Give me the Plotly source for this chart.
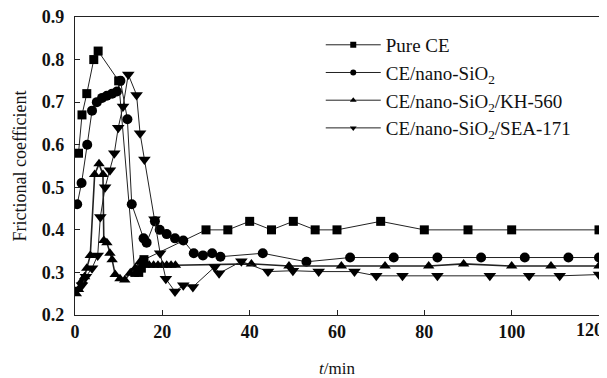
import plotly.graph_objects as go

# ---------------- data ----------------
pure_t = [0.8, 1.6, 2.7, 4.3, 5.3, 10.0, 13.7, 14.6, 15.2, 15.8, 30, 35, 40, 45, 50, 55, 60, 70, 80, 90, 100, 120]
pure_v = [0.58, 0.67, 0.72, 0.80, 0.82, 0.75, 0.30, 0.30, 0.31, 0.33, 0.40, 0.40, 0.42, 0.40, 0.42, 0.40, 0.40, 0.42, 0.40, 0.40, 0.40, 0.40]

sio2_t = [0.5, 1.5, 2.8, 3.9, 5.0, 6.2, 7.3, 8.5, 9.6, 10.4, 12.0, 13.0, 15.7, 16.4, 18.3, 19.4, 21.0, 22.9, 24.8,
          27.2, 29.3, 31.4, 33.3, 43, 53, 63, 73, 83, 93, 103, 113, 120]
sio2_v = [0.46, 0.51, 0.60, 0.68, 0.70, 0.71, 0.715, 0.72, 0.725, 0.75, 0.66, 0.46, 0.38, 0.37, 0.42, 0.40, 0.39, 0.38, 0.375,
          0.345, 0.34, 0.345, 0.337, 0.345, 0.325, 0.335, 0.335, 0.335, 0.335, 0.335, 0.335, 0.335]

kh_t = [0.3, 0.8, 1.6, 2.2, 2.7, 3.5, 4.5, 5.5, 6.4, 6.6, 7.3, 8.0, 8.5, 9.2, 10.3, 11.4, 12.6, 13.8, 14.9,
        16, 17, 18, 19, 20, 21, 22, 23, 40.4, 49, 61, 71, 81, 89, 100, 109, 120]
kh_v = [0.25, 0.26, 0.28, 0.29, 0.31, 0.34, 0.53, 0.555, 0.53, 0.375, 0.37, 0.345, 0.33, 0.295, 0.285, 0.282, 0.298, 0.31, 0.325,
        0.317, 0.317, 0.317, 0.317, 0.317, 0.317, 0.317, 0.317, 0.32, 0.315, 0.315, 0.315, 0.315, 0.32, 0.315, 0.315, 0.315]

sea_t = [0.5, 1.6, 2.5, 3.9, 5.2, 5.8, 6.9, 8.0, 9.0, 9.9, 11.0, 12.2, 14.1, 14.9, 15.9, 18.2, 19.5, 20.8, 22.9, 24.8, 27.0,
         32.0, 33.0, 38.1, 44.2, 49.9, 55.8, 64, 69, 75, 83, 95, 104, 111, 120]
sea_v = [0.26, 0.27, 0.29, 0.31, 0.34, 0.43, 0.50, 0.54, 0.58, 0.64, 0.69, 0.765, 0.717, 0.627, 0.565, 0.425, 0.345, 0.285, 0.255, 0.27, 0.266,
         0.313, 0.298, 0.326, 0.302, 0.304, 0.302, 0.302, 0.292, 0.292, 0.292, 0.292, 0.292, 0.292, 0.295]

names = ["Pure CE", "CE/nano-SiO<sub>2</sub>", "CE/nano-SiO<sub>2</sub>/KH-560", "CE/nano-SiO<sub>2</sub>/SEA-171"]
x_ticks = [0, 20, 40, 60, 80, 100, 120]
x_ticklabels = ["0", "20", "40", "60", "80", "100", "120"]

xs = [pure_t, sio2_t, kh_t, sea_t]
ys = [pure_v, sio2_v, kh_v, sea_v]
symbols = ["square", "circle", "triangle-up", "triangle-down"]
sizes = [9, 10, 10, 11]
widths = [1, 1, 1.6, 1]

fig = go.Figure()
for i in range(4):
    fig.add_trace(go.Scatter(
        x=xs[i], y=ys[i], mode="lines+markers", showlegend=False,
        line=dict(color="#222", width=widths[i]),
        marker=dict(symbol=symbols[i], size=sizes[i], color="black"),
    ))
# legend entries with small markers
for i in range(4):
    fig.add_trace(go.Scatter(
        x=[None], y=[None], mode="lines+markers", name=names[i], legendgroup=str(i),
        line=dict(color="#222", width=1),
        marker=dict(symbol=symbols[i], size=6, color="black"),
    ))

serif = "Liberation Serif"
tickfont = dict(family=serif, size=18, weight="bold", color="#111")
# page body has an 8px margin, so the figure is sized to fit what remains of the 607x378 window
fig.update_layout(
    width=599, height=370,
    margin=dict(l=67, r=8, t=9, b=63, autoexpand=False),
    paper_bgcolor="white", plot_bgcolor="white",
    font=dict(family=serif, color="#111"),
    legend=dict(x=0.469, y=0.97, xanchor="left", yanchor="top",
                bgcolor="rgba(0,0,0,0)", borderwidth=0,
                font=dict(family=serif, size=19, color="#111"),
                itemwidth=55, tracegroupgap=0),
    xaxis=dict(range=[0, 120], tickvals=x_ticks[:-1], ticktext=x_ticklabels[:-1],
               ticks="inside", ticklen=5, tickcolor="#222", automargin=False,
               showline=True, mirror=True, linecolor="#222", linewidth=1.2,
               showgrid=False, zeroline=False, tickfont=tickfont,
               title=dict(text="<i>t</i>/min", font=dict(family=serif, size=17, color="#111"), standoff=23)),
    yaxis=dict(range=[0.2, 0.9], dtick=0.1, tickformat=".1f", ticks="inside", ticklen=5, tickcolor="#222",
               showline=True, mirror=True, linecolor="#222", linewidth=1.2, automargin=False,
               showgrid=False, zeroline=False, ticklabelstandoff=6, tickfont=tickfont,
               ticklabeloverflow="allow",
               title=dict(text="Frictional coefficient", font=dict(family=serif, size=18, color="#111"), standoff=10)),
)
# last x tick label sits at the plot's right edge: nudge it left so it stays in the page
fig.add_annotation(x=1, y=0, xref="paper", yref="paper", text=x_ticklabels[-1],
                   showarrow=False, xanchor="right", yanchor="top", xshift=6, yshift=-3,
                   font=tickfont)
fig.write_html("out.html")
